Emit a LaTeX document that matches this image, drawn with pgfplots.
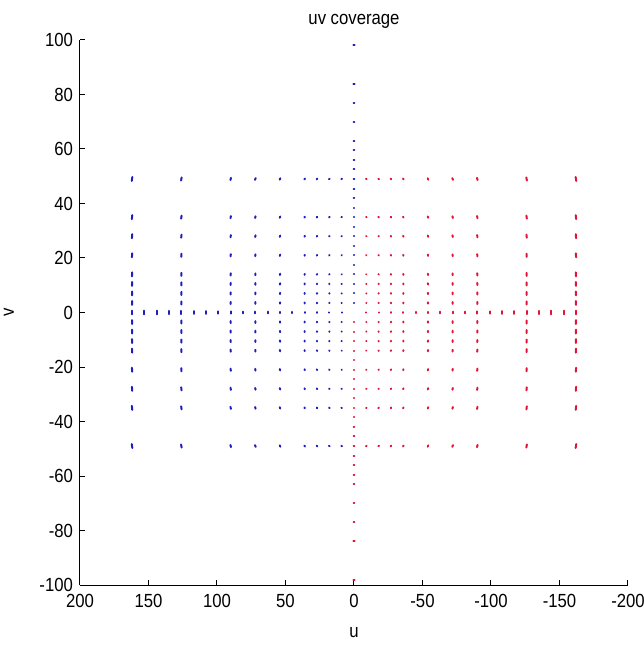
\documentclass[border=0pt]{standalone}
\usepackage{fontspec}
\setmainfont[FakeStretch=0.88]{Liberation Sans}
\usepackage{pgfplots}
\usepackage{pgfplotstable}
\pgfplotsset{compat=1.18}
\definecolor{mblue}{RGB}{30,30,190}
\definecolor{mred}{RGB}{225,20,55}

\pgfplotstableread[row sep=\\]{
x y\\
9 -49\\ 9 -35\\ 9 -28\\ 9 -21\\ 9 -14\\ 9 -10.5\\ 9 -7\\ 9 -3.5\\ 9 3.5\\ 9 7\\ 9 10.5\\ 9 14\\ 9 21\\ 9 28\\ 9 35\\ 9 49\\
18 -49\\ 18 -35\\ 18 -28\\ 18 -21\\ 18 -14\\ 18 -10.5\\ 18 -7\\ 18 -3.5\\ 18 3.5\\ 18 7\\ 18 10.5\\ 18 14\\ 18 21\\ 18 28\\ 18 35\\ 18 49\\
27 -49\\ 27 -35\\ 27 -28\\ 27 -21\\ 27 -14\\ 27 -10.5\\ 27 -7\\ 27 -3.5\\ 27 3.5\\ 27 7\\ 27 10.5\\ 27 14\\ 27 21\\ 27 28\\ 27 35\\ 27 49\\
36 -49\\ 36 -35\\ 36 -28\\ 36 -21\\ 36 -14\\ 36 -10.5\\ 36 -7\\ 36 -3.5\\ 36 3.5\\ 36 7\\ 36 10.5\\ 36 14\\ 36 21\\ 36 28\\ 36 35\\ 36 49\\
54 -49\\ 54 -35\\ 54 -28\\ 54 -21\\ 54 -14\\ 54 -10.5\\ 54 -7\\ 54 -3.5\\ 54 3.5\\ 54 7\\ 54 10.5\\ 54 14\\ 54 21\\ 54 28\\ 54 35\\ 54 49\\
72 -49\\ 72 -35\\ 72 -28\\ 72 -21\\ 72 -14\\ 72 -10.5\\ 72 -7\\ 72 -3.5\\ 72 3.5\\ 72 7\\ 72 10.5\\ 72 14\\ 72 21\\ 72 28\\ 72 35\\ 72 49\\
90 -49\\ 90 -35\\ 90 -28\\ 90 -21\\ 90 -14\\ 90 -10.5\\ 90 -7\\ 90 -3.5\\ 90 3.5\\ 90 7\\ 90 10.5\\ 90 14\\ 90 21\\ 90 28\\ 90 35\\ 90 49\\
126 -49\\ 126 -35\\ 126 -28\\ 126 -21\\ 126 -14\\ 126 -10.5\\ 126 -7\\ 126 -3.5\\ 126 3.5\\ 126 7\\ 126 10.5\\ 126 14\\ 126 21\\ 126 28\\ 126 35\\ 126 49\\
162 -49\\ 162 -35\\ 162 -28\\ 162 -21\\ 162 -14\\ 162 -10.5\\ 162 -7\\ 162 -3.5\\ 162 3.5\\ 162 7\\ 162 10.5\\ 162 14\\ 162 21\\ 162 28\\ 162 35\\ 162 49\\
9 0\\ 18 0\\ 27 0\\ 36 0\\ 45 0\\ 54 0\\ 63 0\\ 72 0\\ 81 0\\ 90 0\\ 99 0\\ 108 0\\ 117 0\\ 126 0\\ 135 0\\ 144 0\\ 153 0\\ 162 0\\
0 3.5\\ 0 7\\ 0 10.5\\ 0 14\\ 0 17.5\\ 0 21\\ 0 24.5\\ 0 28\\ 0 31.5\\ 0 35\\ 0 38.5\\ 0 42\\ 0 45.5\\ 0 49\\ 0 52.5\\ 0 56\\ 0 59.5\\ 0 63\\ 0 70\\ 0 77\\ 0 84\\ 0 98\\
}\bluepts

\pgfplotstableread[row sep=\\]{
x y\\
-9 49\\ -9 35\\ -9 28\\ -9 21\\ -9 14\\ -9 10.5\\ -9 7\\ -9 3.5\\ -9 -3.5\\ -9 -7\\ -9 -10.5\\ -9 -14\\ -9 -21\\ -9 -28\\ -9 -35\\ -9 -49\\
-18 49\\ -18 35\\ -18 28\\ -18 21\\ -18 14\\ -18 10.5\\ -18 7\\ -18 3.5\\ -18 -3.5\\ -18 -7\\ -18 -10.5\\ -18 -14\\ -18 -21\\ -18 -28\\ -18 -35\\ -18 -49\\
-27 49\\ -27 35\\ -27 28\\ -27 21\\ -27 14\\ -27 10.5\\ -27 7\\ -27 3.5\\ -27 -3.5\\ -27 -7\\ -27 -10.5\\ -27 -14\\ -27 -21\\ -27 -28\\ -27 -35\\ -27 -49\\
-36 49\\ -36 35\\ -36 28\\ -36 21\\ -36 14\\ -36 10.5\\ -36 7\\ -36 3.5\\ -36 -3.5\\ -36 -7\\ -36 -10.5\\ -36 -14\\ -36 -21\\ -36 -28\\ -36 -35\\ -36 -49\\
-54 49\\ -54 35\\ -54 28\\ -54 21\\ -54 14\\ -54 10.5\\ -54 7\\ -54 3.5\\ -54 -3.5\\ -54 -7\\ -54 -10.5\\ -54 -14\\ -54 -21\\ -54 -28\\ -54 -35\\ -54 -49\\
-72 49\\ -72 35\\ -72 28\\ -72 21\\ -72 14\\ -72 10.5\\ -72 7\\ -72 3.5\\ -72 -3.5\\ -72 -7\\ -72 -10.5\\ -72 -14\\ -72 -21\\ -72 -28\\ -72 -35\\ -72 -49\\
-90 49\\ -90 35\\ -90 28\\ -90 21\\ -90 14\\ -90 10.5\\ -90 7\\ -90 3.5\\ -90 -3.5\\ -90 -7\\ -90 -10.5\\ -90 -14\\ -90 -21\\ -90 -28\\ -90 -35\\ -90 -49\\
-126 49\\ -126 35\\ -126 28\\ -126 21\\ -126 14\\ -126 10.5\\ -126 7\\ -126 3.5\\ -126 -3.5\\ -126 -7\\ -126 -10.5\\ -126 -14\\ -126 -21\\ -126 -28\\ -126 -35\\ -126 -49\\
-162 49\\ -162 35\\ -162 28\\ -162 21\\ -162 14\\ -162 10.5\\ -162 7\\ -162 3.5\\ -162 -3.5\\ -162 -7\\ -162 -10.5\\ -162 -14\\ -162 -21\\ -162 -28\\ -162 -35\\ -162 -49\\
-9 0\\ -18 0\\ -27 0\\ -36 0\\ -45 0\\ -54 0\\ -63 0\\ -72 0\\ -81 0\\ -90 0\\ -99 0\\ -108 0\\ -117 0\\ -126 0\\ -135 0\\ -144 0\\ -153 0\\ -162 0\\
0 -3.5\\ 0 -7\\ 0 -10.5\\ 0 -14\\ 0 -17.5\\ 0 -21\\ 0 -24.5\\ 0 -28\\ 0 -31.5\\ 0 -35\\ 0 -38.5\\ 0 -42\\ 0 -45.5\\ 0 -49\\ 0 -52.5\\ 0 -56\\ 0 -59.5\\ 0 -63\\ 0 -70\\ 0 -77\\ 0 -84\\ 0 -98\\
}\redpts

\begin{document}
\begin{tikzpicture}
\begin{axis}[
  scale only axis, width=274pt, height=272.5pt,
  xmin=-200, xmax=200, ymin=-100, ymax=100,
  x dir=reverse,
  axis x line*=bottom, axis y line*=left,
  axis line style={black, line width=0.5pt, -},
  tick align=inside,
  major tick length=2.5pt,
  tick style={black, line width=0.5pt},
  xtick={-200,-150,-100,-50,0,50,100,150,200},
  xticklabels={-200,-150,-100,-50,0,50,100,150,200},
  ytick={-100,-80,-60,-40,-20,0,20,40,60,80,100},
  yticklabels={-100,-80,-60,-40,-20,0,20,40,60,80,100},
  tick label style={font=\fontsize{9.5}{11}\selectfont},
  xticklabel style={yshift=-1pt},
  label style={font=\fontsize{9.5}{11}\selectfont},
  xlabel={u},
  ylabel={v},
  xlabel style={at={(axis description cs:0.5,-0.0881)}, anchor=center},
  ylabel style={at={(axis description cs:-0.1296,0.5)}, anchor=center},
]
\addplot[mblue, line width=1pt, line cap=round,
  quiver={u=-0.009*\thisrow{y}, v=0.009*\thisrow{x},
    every arrow/.append style={line width=1pt, line cap=round}}]
  table[x expr=\thisrow{x}+0.0045*\thisrow{y}, y expr=\thisrow{y}-0.0045*\thisrow{x}] {\bluepts};
\addplot[mred, line width=1pt, line cap=round,
  quiver={u=-0.009*\thisrow{y}, v=0.009*\thisrow{x},
    every arrow/.append style={line width=1pt, line cap=round}}]
  table[x expr=\thisrow{x}+0.0045*\thisrow{y}, y expr=\thisrow{y}-0.0045*\thisrow{x}] {\redpts};
\end{axis}
\node[anchor=base, font=\fontsize{9.5}{11}\selectfont, inner sep=0pt]
  at ([yshift=7.6pt]current axis.north) {uv coverage};
\pgfresetboundingbox
\path[use as bounding box] (current axis.south west) ++(-40pt,-31.5pt) rectangle ++(321.5pt,324pt);
\end{tikzpicture}
\end{document}
